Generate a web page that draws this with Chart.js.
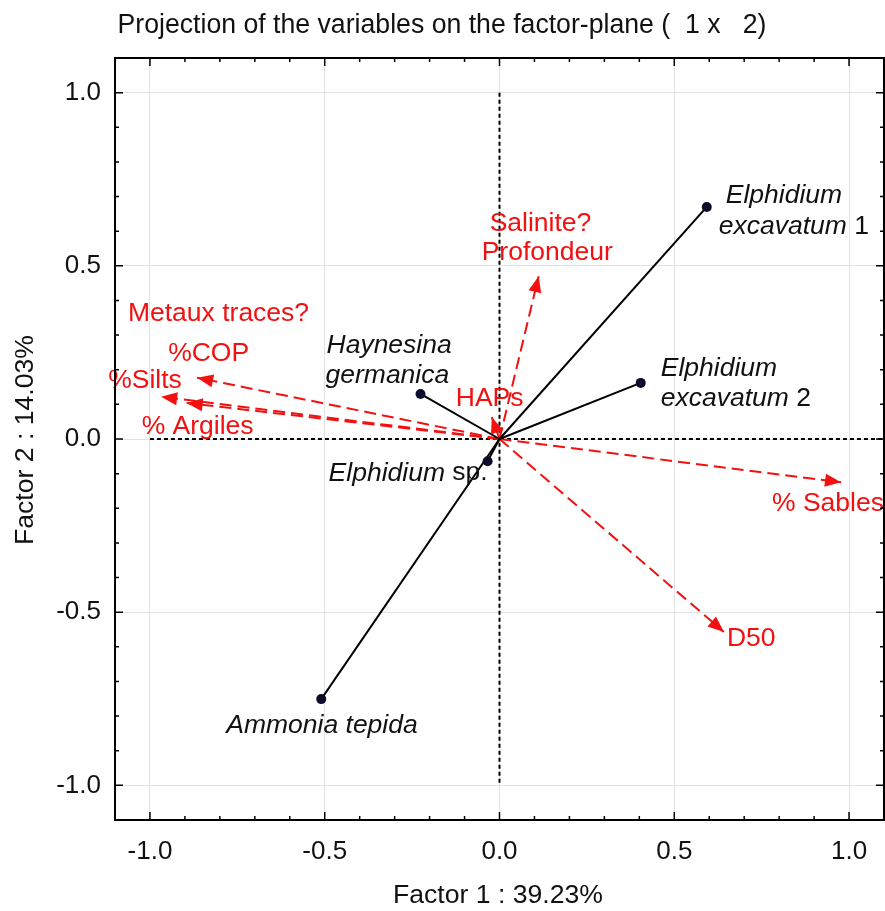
<!DOCTYPE html>
<html>
<head>
<meta charset="utf-8">
<script src="https://cdn.jsdelivr.net/npm/chart.js@4"></script>
<style>
html,body{margin:0;padding:0;background:#fff;}
canvas{display:block;}
</style>
</head>
<body>
<canvas id="c" width="885" height="911"></canvas>
<script>
// ---- data ----
const speciesNames = ["Elphidium excavatum 1", "Elphidium excavatum 2", "Haynesina germanica", "Elphidium sp.", "Ammonia tepida"];
const speciesF1 = [0.593, 0.404, -0.226, -0.034, -0.510];
const speciesF2 = [0.670, 0.162, 0.130, -0.064, -0.751];

const variableNames = ["% Sables", "D50", "Salinite? Profondeur", "HAPs", "%COP", "%Silts", "% Argiles"];
const variableF1 = [0.977, 0.642, 0.112, -0.022, -0.865, -0.968, -0.895];
const variableF2 = [-0.125, -0.557, 0.470, 0.063, 0.177, 0.122, 0.104];

const annotationText = "Metaux traces?";
const tickValues = [-1.0, -0.5, 0.0, 0.5, 1.0];
const chartTitle = "Projection of the variables on the factor-plane (  1 x   2)";
const xTitle = "Factor 1 : 39.23%";
const yTitle = "Factor 2 : 14.03%";

// ---- styles ----
const FONT = "'Liberation Sans', Arial, Helvetica, sans-serif";
const LABEL_SIZE = 26.5;
const RED = "rgb(242,16,16)";
const INK = "#111";

// label layouts: segments [text, italic] per line, offsets relative to the point in px
const speciesLabelLayout = [
  [[19, -11, [["Elphidium", true]]], [12, 20, [["excavatum", true], [" 1", false]]]],
  [[20, -14, [["Elphidium", true]]], [20, 16, [["excavatum", true], [" 2", false]]]],
  [[-94, -48, [["Haynesina", true]]], [-95, -18, [["germanica", true]]]],
  [[-159, 12, [["Elphidium", true], [" sp.", false]]]],
  [[-95, 27, [["Ammonia tepida", true]]]]
];
const variableLabelLayout = [
  [[-69, 21, ["% Sables"]]],
  [[3, 7, ["D50"]]],
  [[-49, -53, ["Salinite?"]], [-57, -24, ["Profondeur"]]],
  [[-36, -18, ["HAPs"]]],
  [[-29, -24, ["%COP"]]],
  [[-53, -16, ["%Silts"]]],
  [[-45, 24, ["% Argiles"]]]
];

const datasets = [];
speciesNames.forEach((n, i) => {
  datasets.push({
    label: n,
    data: [{x: 0, y: 0}, {x: speciesF1[i], y: speciesF2[i]}],
    showLine: true,
    borderColor: "#000",
    borderWidth: 2,
    pointRadius: ctx => ctx.dataIndex === 0 ? 0 : 5,
    pointBackgroundColor: "#0b0b2a",
    pointBorderColor: "#0b0b2a",
    pointBorderWidth: 0
  });
});
variableNames.forEach((n, i) => {
  datasets.push({
    label: n,
    data: [{x: 0, y: 0}, {x: variableF1[i], y: variableF2[i]}],
    showLine: true,
    borderColor: RED,
    borderWidth: 2,
    borderDash: [12, 6],
    pointRadius: 0
  });
});

const fmt = v => (Math.abs(v) < 1e-9 ? "0.0" : v.toFixed(1));

function drawSegments(ctx, x, y, segs, color) {
  let cx = x;
  ctx.fillStyle = color;
  ctx.textBaseline = "middle";
  ctx.textAlign = "left";
  segs.forEach(([t, it]) => {
    ctx.font = (it ? "italic " : "") + LABEL_SIZE + "px " + FONT;
    ctx.fillText(t, cx, y);
    cx += ctx.measureText(t).width;
  });
}

function fitText(ctx, text, cx, cy, width, size, rotate) {
  ctx.save();
  ctx.font = size + "px " + FONT;
  const w = ctx.measureText(text).width;
  ctx.translate(cx, cy);
  if (rotate) ctx.rotate(-Math.PI / 2);
  ctx.scale(width / w, 1);
  ctx.textAlign = "center";
  ctx.textBaseline = "middle";
  ctx.fillStyle = INK;
  ctx.fillText(text, 0, 0);
  ctx.restore();
}

const pcaPlugin = {
  id: "pca",
  beforeDatasetsDraw(chart) {
    const {ctx, scales: {x, y}} = chart;
    ctx.save();
    ctx.strokeStyle = "#000";
    ctx.lineWidth = 2;
    ctx.setLineDash([4, 3]);
    ctx.beginPath();
    ctx.moveTo(x.getPixelForValue(0), y.getPixelForValue(1.0));
    ctx.lineTo(x.getPixelForValue(0), y.getPixelForValue(-1.0));
    ctx.moveTo(x.getPixelForValue(-1.0), y.getPixelForValue(0));
    ctx.lineTo(x.getPixelForValue(1.1), y.getPixelForValue(0));
    ctx.stroke();
    ctx.restore();
  },
  afterDraw(chart) {
    const {ctx, chartArea: a, scales: {x, y}} = chart;
    ctx.save();
    // arrowheads
    ctx.fillStyle = RED;
    variableF1.forEach((v, i) => {
      const px = x.getPixelForValue(v), py = y.getPixelForValue(variableF2[i]);
      const ox = x.getPixelForValue(0), oy = y.getPixelForValue(0);
      const ang = Math.atan2(py - oy, px - ox);
      const L = 16, W = 6.5;
      ctx.beginPath();
      ctx.moveTo(px, py);
      ctx.lineTo(px - L * Math.cos(ang) + W * Math.sin(ang), py - L * Math.sin(ang) - W * Math.cos(ang));
      ctx.lineTo(px - L * Math.cos(ang) - W * Math.sin(ang), py - L * Math.sin(ang) + W * Math.cos(ang));
      ctx.closePath();
      ctx.fill();
    });
    // variable labels
    variableLabelLayout.forEach((lines, i) => {
      const px = x.getPixelForValue(variableF1[i]), py = y.getPixelForValue(variableF2[i]);
      lines.forEach(([dx, dy, [t]]) => drawSegments(ctx, px + dx, py + dy, [[t, false]], RED));
    });
    // free annotation
    drawSegments(ctx, x.getPixelForValue(-1.063), y.getPixelForValue(0.362), [[annotationText, false]], RED);
    // species labels
    speciesLabelLayout.forEach((lines, i) => {
      const px = x.getPixelForValue(speciesF1[i]), py = y.getPixelForValue(speciesF2[i]);
      lines.forEach(([dx, dy, segs]) => drawSegments(ctx, px + dx, py + dy, segs, INK));
    });
    // frame
    ctx.strokeStyle = "#000";
    ctx.lineWidth = 2;
    ctx.setLineDash([]);
    ctx.strokeRect(a.left, a.top, a.right - a.left, a.bottom - a.top);
    // inward ticks
    ctx.lineWidth = 1.5;
    ctx.beginPath();
    for (let k = -11; k <= 11; k++) {
      const v = k / 10;
      const major = k % 5 === 0;
      const len = major ? 8 : 4;
      const px = x.getPixelForValue(v), py = y.getPixelForValue(v);
      ctx.moveTo(px, a.top); ctx.lineTo(px, a.top + len);
      ctx.moveTo(px, a.bottom); ctx.lineTo(px, a.bottom - len);
      ctx.moveTo(a.left, py); ctx.lineTo(a.left + len, py);
      ctx.moveTo(a.right, py); ctx.lineTo(a.right - len, py);
    }
    ctx.stroke();
    // titles
    fitText(ctx, chartTitle, 442, 26, 649, 27, false);
    fitText(ctx, xTitle, 498, 896, 210, 26, false);
    fitText(ctx, yTitle, 26, 440, 210, 26, true);
    ctx.restore();
  }
};

const keepTicks = scale => {
  scale.ticks = tickValues.map(v => ({value: v}));
};

new Chart(document.getElementById("c"), {
  type: "scatter",
  data: {datasets},
  options: {
    responsive: false,
    animation: false,
    devicePixelRatio: 1,
    layout: {autoPadding: false, padding: {top: 58, right: 1, left: 0, bottom: 0}},
    plugins: {legend: {display: false}, tooltip: {enabled: false}, title: {display: false}},
    scales: {
      x: {
        type: "linear", min: -1.1, max: 1.1,
        afterBuildTicks: keepTicks,
        afterFit: s => { s.height = 91; s.paddingLeft = 0; s.paddingRight = 0; },
        grid: {color: "#e2e2e2", lineWidth: 1, drawTicks: false},
        border: {display: false},
        ticks: {callback: v => fmt(v), font: {family: FONT, size: 26}, color: INK, padding: 16, maxRotation: 0}
      },
      y: {
        type: "linear", min: -1.1, max: 1.1,
        afterBuildTicks: keepTicks,
        afterFit: s => { s.width = 115; s.paddingTop = 0; s.paddingBottom = 0; },
        grid: {color: "#e2e2e2", lineWidth: 1, drawTicks: false},
        border: {display: false},
        ticks: {callback: v => fmt(v), font: {family: FONT, size: 26}, color: INK, padding: 14}
      }
    }
  },
  plugins: [pcaPlugin]
});
</script>
</body>
</html>
